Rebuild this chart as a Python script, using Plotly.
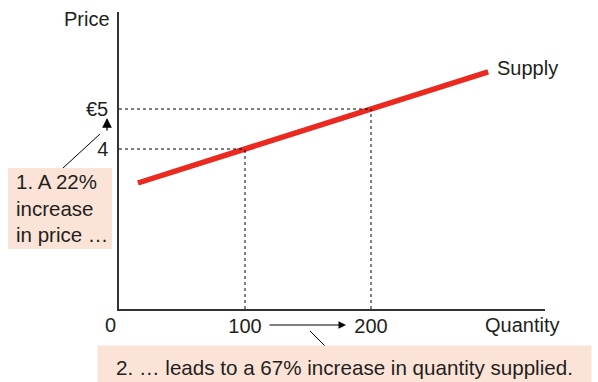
import plotly.graph_objects as go

# Data
quantity = [15, 100, 200, 293]
price = [3.15, 4, 5, 5.93]
price_ticks = [4, 5]
price_tick_labels = ["4", "€5"]
qty_ticks = [100, 200]
qty_tick_labels = ["100", "200"]
points_q = [100, 200]
points_p = [4, 5]

W, H = 598, 382
L, T, R, B = 119, 12, 545, 309
FONT = "Liberation Sans, Arial, Helvetica, sans-serif"
TXT = "#231f20"
BOX = "#fbe3d8"
FS = 20

def px(x):
    return (x - L) / (R - L)

def py(y):
    return (B - y) / (B - T)

fig = go.Figure()
fig.add_trace(go.Scatter(x=quantity, y=price, mode="lines",
                         line=dict(color="#ea2a21", width=5.5),
                         hoverinfo="skip", showlegend=False))

shapes = [
    # background box for note 1
    dict(type="rect", xref="paper", yref="paper", layer="below",
         x0=px(8), x1=px(112), y0=py(249), y1=py(168),
         fillcolor=BOX, line=dict(width=0)),
]
for q, p in zip(points_q, points_p):
    shapes.append(dict(type="line", xref="x", yref="y", x0=0, x1=q, y0=p, y1=p,
                       line=dict(color="black", width=1, dash="dot")))
    shapes.append(dict(type="line", xref="x", yref="y", x0=q, x1=q, y0=0, y1=p,
                       line=dict(color="black", width=1, dash="dot")))
# connector lines from boxes
shapes.append(dict(type="line", xref="paper", yref="paper",
                   x0=px(63), y0=py(168), x1=px(100), y1=py(134),
                   line=dict(color="black", width=1)))
shapes.append(dict(type="line", xref="paper", yref="paper",
                   x0=px(310), y0=py(331), x1=px(326), y1=py(347),
                   line=dict(color="black", width=1)))

annotations = [
    dict(text="Price", x=px(112), y=py(19), xref="paper", yref="paper",
         xanchor="right", yanchor="middle", showarrow=False),
    dict(text="0", x=px(110), y=py(325), xref="paper", yref="paper",
         xanchor="center", yanchor="middle", showarrow=False),
    dict(text="Quantity", x=px(561), y=py(325), xref="paper", yref="paper",
         xanchor="right", yanchor="middle", showarrow=False),
    dict(text="Supply", x=quantity[-1], y=price[-1], xref="x", yref="y",
         xanchor="left", yanchor="middle", xshift=7, yshift=4, showarrow=False),
    # arrow 4 -> 5
    dict(text="", x=px(107), y=py(118), xref="paper", yref="paper",
         ax=0, ay=14, showarrow=True, arrowhead=2, arrowsize=1.5,
         arrowwidth=1.3, arrowcolor="black"),
    # arrow 100 -> 200
    dict(text="", x=px(346), y=py(325), xref="paper", yref="paper",
         ax=-78, ay=0, showarrow=True, arrowhead=2, arrowsize=1.5,
         arrowwidth=1, arrowcolor="black"),
    dict(text="1. A 22%<br>increase<br>in price …", x=px(14), y=py(208),
         xref="paper", yref="paper", xanchor="left", yanchor="middle",
         align="left", showarrow=False,
         font=dict(size=20.5, color=TXT, family=FONT)),
    dict(text="2. … leads to a 67% increase in quantity supplied.",
         x=px(97), y=py(345), xref="paper", yref="paper",
         xanchor="left", yanchor="top", align="center", showarrow=False,
         bgcolor=BOX, width=489, height=38, borderpad=2,
         font=dict(size=20.6, color=TXT, family=FONT)),
]

fig.update_layout(
    width=W, height=H,
    margin=dict(l=L, t=T, r=W - R, b=H - B, pad=0),
    paper_bgcolor="white", plot_bgcolor="white",
    font=dict(family=FONT, size=FS, color=TXT),
    shapes=shapes, annotations=annotations,
    xaxis=dict(range=[0, (R - L) / 1.26], showgrid=False, zeroline=False,
               showline=True, linecolor="#333", linewidth=1.5,
               tickvals=qty_ticks, ticktext=qty_tick_labels, ticks="",
               ticklabelstandoff=-2, fixedrange=True),
    yaxis=dict(range=[0, (B - T) / 40], showgrid=False, zeroline=False,
               showline=True, linecolor="#333", linewidth=1.5,
               tickvals=price_ticks, ticktext=price_tick_labels, ticks="",
               ticklabelstandoff=5, fixedrange=True),
)

fig.write_html("out.html", config={"displayModeBar": False},
               post_script="document.body.style.margin='0';document.body.style.overflow='hidden';")
